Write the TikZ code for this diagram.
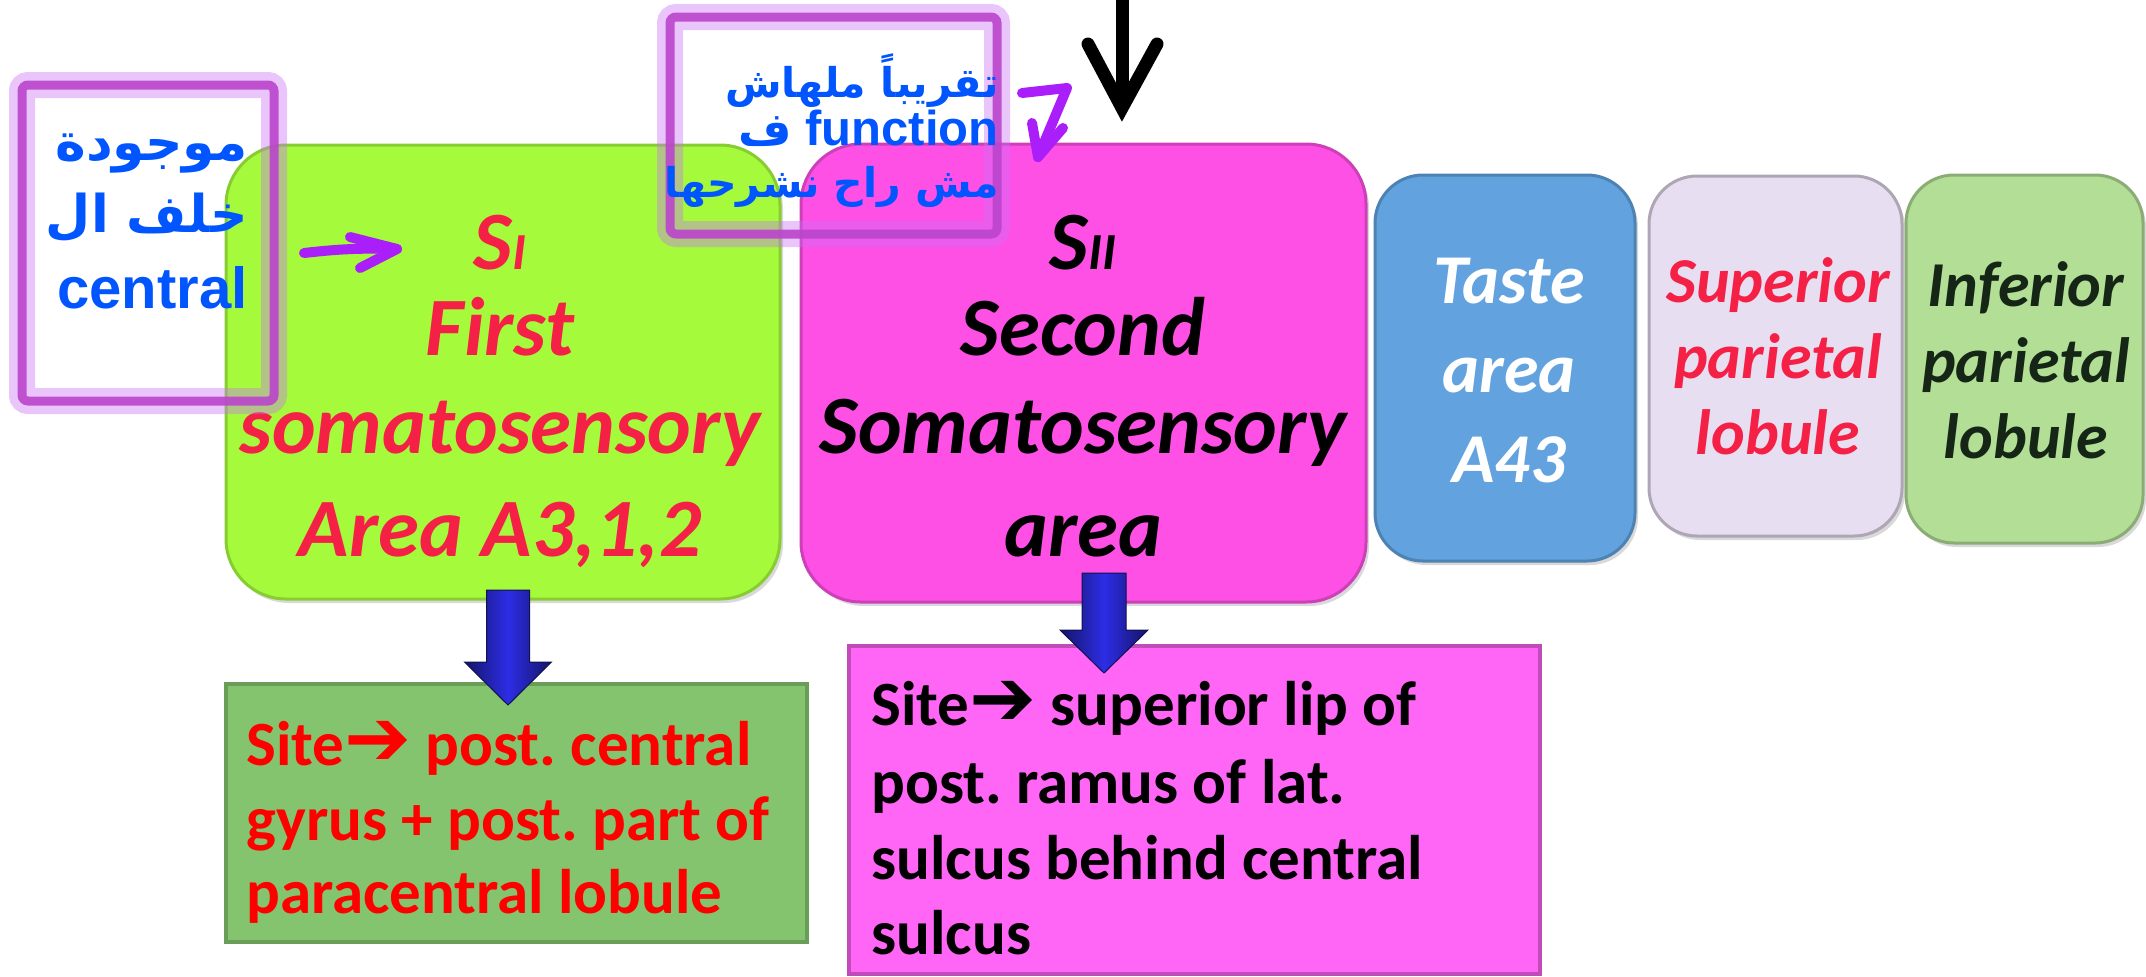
\documentclass[tikz,border=0pt]{standalone}
\usepackage{fontspec}
\setmainfont{Carlito}
\newfontfamily\sansbold{Liberation Sans}
\newfontfamily\arabicfont[Script=Arabic]{DejaVu Sans}
\newfontfamily\symfont{DejaVu Sans}
\TeXXeTstate=1
\frenchspacing
\usetikzlibrary{shadows,calc}

\definecolor{c-lime}{RGB}{165,250,60}
\definecolor{c-magenta}{RGB}{255,80,230}
\definecolor{c-sky}{RGB}{98,163,223}
\definecolor{c-lilac}{RGB}{232,222,242}
\definecolor{c-sage}{RGB}{178,222,150}
\definecolor{c-leaf}{RGB}{132,196,110}
\definecolor{c-pink}{RGB}{255,102,245}
\definecolor{c-crimson}{RGB}{245,32,70}
\definecolor{c-red}{RGB}{255,0,0}
\definecolor{c-ink}{RGB}{22,38,22}
\definecolor{c-note}{RGB}{0,85,255}
\definecolor{c-violet}{RGB}{170,30,250}
\definecolor{c-frame}{RGB}{187,68,204}
\definecolor{c-halo}{RGB}{200,110,245}
\definecolor{c-royal}{RGB}{45,45,230}

\newcommand\sitearrow{{\symfont\mdseries\fontsize{40}{40}\selectfont ➔}}

\begin{document}
\begin{tikzpicture}[x=0.5pt,y=-0.5pt,
  areabox/.style={rounded corners=30pt, inner sep=0pt, outer sep=0pt, line width=1.5pt,
    drop shadow={shadow xshift=1.5pt, shadow yshift=-2pt, opacity=0.3}},
  tallbox/.style={areabox, rounded corners=24pt},
  sitebox/.style={inner sep=0pt, outer sep=0pt, line width=2pt,
    drop shadow={shadow xshift=1pt, shadow yshift=-1pt, opacity=0.25}},
  bigtext/.style={inner sep=0pt, anchor=base, font=\fontsize{41.5}{50}\selectfont\bfseries\itshape},
  midtext/.style={inner sep=0pt, anchor=base, font=\fontsize{35}{42}\selectfont\bfseries\itshape},
  lobetext/.style={inner sep=0pt, anchor=base, font=\fontsize{32}{38}\selectfont\bfseries\itshape},
  sitetext/.style={inner sep=0pt, anchor=base west, font=\fontsize{31.5}{38}\selectfont\bfseries},
  noteframe/.style={inner sep=0pt, outer sep=0pt, rounded corners=3pt, draw=c-frame,
    draw opacity=0.9, line width=4.5pt,
    preaction={draw=c-halo, draw opacity=0.4, line width=13pt}},
  notetext/.style={inner sep=0pt, anchor=base east, text=c-note},
  pen/.style={draw=c-violet, line width=5pt, line cap=round, line join=round},
  blockarrow/.style={left color=c-royal!45!black, right color=c-royal!45!black,
    middle color=c-royal, draw=c-royal!35!black, line width=0.5pt},
]
\useasboundingbox (0,0) rectangle (2146,976);

% ---- cortical areas ----
\node[areabox, fill=c-lime, draw=c-lime!82!black, minimum width=277pt, minimum height=227pt] (si) at (503,372) {};
\node[areabox, fill=c-magenta, draw=c-magenta!80!black, minimum width=282.5pt, minimum height=229pt] (sii) at (1083.5,373) {};
\node[tallbox, fill=c-sky, draw=c-sky!80!black, minimum width=130pt, minimum height=193pt] (taste) at (1505,368) {};
\node[tallbox, fill=c-lilac, draw=c-lilac!75!black, minimum width=126.5pt, minimum height=180pt] (spl) at (1775.5,356) {};
\node[tallbox, fill=c-sage, draw=c-sage!78!black, minimum width=118.5pt, minimum height=184pt] (ipl) at (2024.5,359) {};

% ---- sites ----
\node[sitebox, fill=c-leaf, draw=c-leaf!80!black, minimum width=290.5pt, minimum height=129pt] (si-site) at (516.5,813) {};
\node[sitebox, fill=c-pink, draw=c-pink!75!black, minimum width=345.5pt, minimum height=164pt] (sii-site) at (1194.5,810) {};

% ---- block arrows from areas to sites ----
\coordinate (si-out) at (508,590);
\coordinate (si-in) at (508,705);
\shadedraw[blockarrow] ($(si-out)+(-21.5,0)$) -- ($(si-out)+(21.5,0)$) -- ($(si-in)+(21.5,-43)$)
  -- ($(si-in)+(43.5,-43)$) -- (si-in) -- ($(si-in)+(-43.5,-43)$) -- ($(si-in)+(-21.5,-43)$) -- cycle;
\coordinate (sii-out) at (1104,573);
\coordinate (sii-in) at (1104,673);
\shadedraw[blockarrow] ($(sii-out)+(-22,0)$) -- ($(sii-out)+(22,0)$) -- ($(sii-in)+(22,-43)$)
  -- ($(sii-in)+(44,-43)$) -- (sii-in) -- ($(sii-in)+(-44,-43)$) -- ($(sii-in)+(-22,-43)$) -- cycle;

% ---- area labels ----
\node[bigtext, text=c-crimson] (si-t1) at (500,269) {S{\fontsize{26}{30}\selectfont I}};
\node[bigtext, text=c-crimson] (si-t2) at (500,355) {First};
\node[bigtext, text=c-crimson] (si-t3) at (500,453) {somatosensory};
\node[bigtext, text=c-crimson] (si-t4) at (500,556) {Area A3,1,2};

\node[bigtext] (sii-t1) at (1083,269) {S{\fontsize{26}{30}\selectfont II}};
\node[bigtext] (sii-t2) at (1083,355) {Second};
\node[bigtext] (sii-t3) at (1083,453) {Somatosensory};
\node[bigtext] (sii-t4) at (1083,556) {area};

\node[midtext, text=white] (taste-t1) at (1509,303) {Taste};
\node[midtext, text=white] (taste-t2) at (1509,392) {area};
\node[midtext, text=white] (taste-t3) at (1509,482) {A43};

\node[lobetext, text=c-crimson] (spl-t1) at (1778,302) {Superior};
\node[lobetext, text=c-crimson] (spl-t2) at (1778,378) {parietal};
\node[lobetext, text=c-crimson] (spl-t3) at (1778,454) {lobule};

\node[lobetext, text=c-ink] (ipl-t1) at (2026,306) {Inferior};
\node[lobetext, text=c-ink] (ipl-t2) at (2026,382) {parietal};
\node[lobetext, text=c-ink] (ipl-t3) at (2026,458) {lobule};

% ---- site labels ----
\node[sitetext, text=c-red] (si-s1) at (246,765) {Site\sitearrow\ post. central};
\node[sitetext, text=c-red] (si-s2) at (246,840) {gyrus + post. part of};
\node[sitetext, text=c-red] (si-s3) at (246,913) {paracentral lobule};

\node[sitetext] (sii-s1) at (871,725) {Site\sitearrow\ superior lip of};
\node[sitetext] (sii-s2) at (871,803) {post. ramus of lat.};
\node[sitetext] (sii-s3) at (871,879) {sulcus behind central};
\node[sitetext] (sii-s4) at (871,954) {sulcus};

% ---- hand-written notes ----
\node[noteframe, minimum width=126pt, minimum height=158pt] (note-left) at (148,243) {};
\node[noteframe, minimum width=163.5pt, minimum height=108.5pt] (note-top) at (833.5,125.5) {};

\coordinate (p1a) at (304,253);
\coordinate (p1b) at (397,249);
\draw[pen] (p1a) to[bend left=4] (p1b);
\draw[pen] ($(p1b)+(-47,-12)$) -- (p1b) -- ($(p1b)+(-37,19)$);

\coordinate (p2a) at (1022,93);
\coordinate (p2k) at (1067,88);
\coordinate (p2b) at (1038,157);
\draw[pen] (p2a) -- (p2k) -- (p2b);
\draw[pen] ($(p2b)+(-6,-34)$) -- (p2b) -- ($(p2b)+(25,-29)$);

\node[notetext, font={\arabicfont\bfseries\fontsize{26}{32}\selectfont}] (n1a) at (248,160) {\beginR موجودة\endR};
\node[notetext, font={\arabicfont\bfseries\fontsize{26}{32}\selectfont}] (n1b) at (248,232) {\beginR خلف ال\endR};
\node[notetext, font={\sansbold\bfseries\fontsize{29}{34}\selectfont}] (n1c) at (248,308) {central};

\node[notetext, font={\arabicfont\bfseries\fontsize{20.5}{26}\selectfont}] (n2a) at (999,97) {\beginR تقريباً ملهاش\endR};
\node[notetext, font={\sansbold\bfseries\fontsize{24.5}{28}\selectfont}] (n2b) at (999,145) {{\arabicfont\fontsize{23}{28}\selectfont ف} function};
\node[notetext, font={\arabicfont\bfseries\fontsize{20.5}{26}\selectfont}] (n2c) at (999,197) {\beginR مش راح نشرحها\endR};

% ---- black pointer at the top ----
\coordinate (drop-top) at (1122,-10);
\coordinate (drop-tip) at (1122,108);
\draw[line width=6.5pt] (drop-top) -- (drop-tip);
\draw[line width=6.5pt, line cap=round, line join=miter] ($(drop-tip)+(-34,-64)$) -- (drop-tip) -- ($(drop-tip)+(35,-64)$);
\end{tikzpicture}
\end{document}
